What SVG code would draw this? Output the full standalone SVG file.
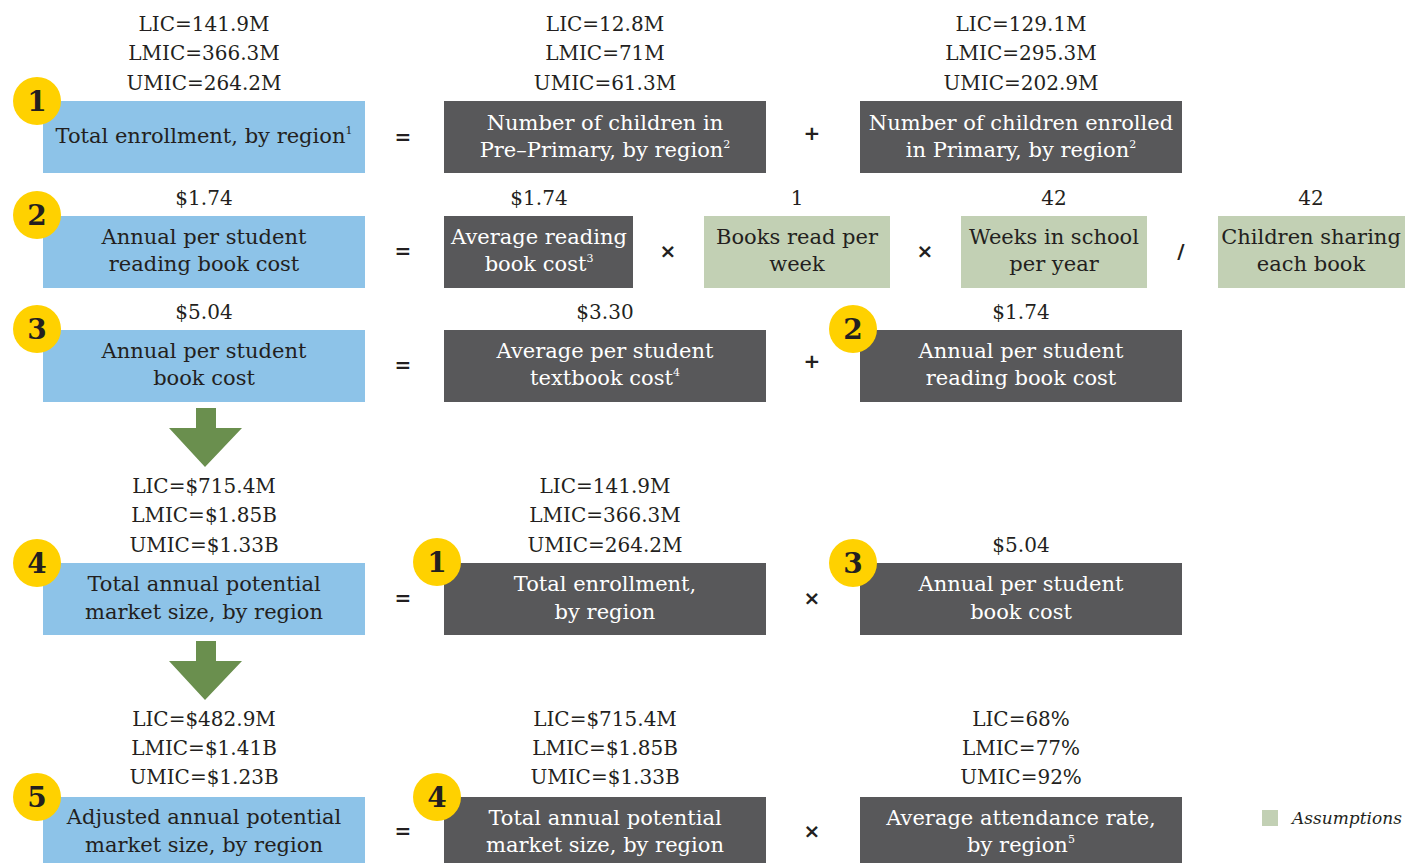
<svg xmlns="http://www.w3.org/2000/svg" width="1406" height="863" viewBox="0 0 1406 863">
<style>
.blue{fill:#8DC3E8}
.dark{fill:#58585A}
.green{fill:#C2D0B4}
.t{font-family:"DejaVu Serif","Liberation Serif",serif;font-size:20px;fill:#231F20;text-anchor:middle;dominant-baseline:central}
.b{font-size:21px}
.w{fill:#FFFFFF}
.op{font-family:"DejaVu Sans","Liberation Sans",sans-serif;font-size:20px;font-weight:bold;fill:#231F20;text-anchor:middle;dominant-baseline:central}
.circ{fill:#FFD100}
.num{font-family:"DejaVu Serif","Liberation Serif",serif;font-size:28px;font-weight:bold;fill:#231F20;text-anchor:middle;dominant-baseline:central}
.sup{font-size:11px}
.arrow{fill:#6A8F4E}
.leg{font-family:"DejaVu Serif","Liberation Serif",serif;font-size:17px;font-style:italic;fill:#231F20;dominant-baseline:central}
</style>

<!-- Row 1 -->
<g id="n1">
<text class="t" x="204" y="24">LIC=141.9M</text>
<text class="t" x="204" y="53">LMIC=366.3M</text>
<text class="t" x="204" y="83">UMIC=264.2M</text>
<rect class="blue" x="43" y="101" width="322" height="72"/>
<circle class="circ" cx="37" cy="101" r="24"/>
<text class="num" x="37" y="101">1</text>
<text class="t b" x="204" y="136">Total enrollment, by region<tspan class="sup" dy="-6">1</tspan></text>
</g>
<text class="op" x="403" y="137">=</text>
<g id="n1a">
<text class="t" x="605" y="24">LIC=12.8M</text>
<text class="t" x="605" y="53">LMIC=71M</text>
<text class="t" x="605" y="83">UMIC=61.3M</text>
<rect class="dark" x="444" y="101" width="322" height="72"/>
<text class="t b w" x="605" y="123">Number of children in</text>
<text class="t b w" x="605" y="150">Pre–Primary, by region<tspan class="sup" dy="-6">2</tspan></text>
</g>
<text class="op" x="812" y="133">+</text>
<g id="n1b">
<text class="t" x="1021" y="24">LIC=129.1M</text>
<text class="t" x="1021" y="53">LMIC=295.3M</text>
<text class="t" x="1021" y="83">UMIC=202.9M</text>
<rect class="dark" x="860" y="101" width="322" height="72"/>
<text class="t b w" x="1021" y="123">Number of children enrolled</text>
<text class="t b w" x="1021" y="150">in Primary, by region<tspan class="sup" dy="-6">2</tspan></text>
</g>

<!-- Row 2 -->
<g id="n2">
<text class="t" x="204" y="198">$1.74</text>
<rect class="blue" x="43" y="216" width="322" height="72"/>
<circle class="circ" cx="37" cy="215" r="24"/>
<text class="num" x="37" y="215">2</text>
<text class="t b" x="204" y="237">Annual per student</text>
<text class="t b" x="204" y="264">reading book cost</text>
</g>
<text class="op" x="403" y="251">=</text>
<g id="n2a">
<text class="t" x="539" y="198">$1.74</text>
<rect class="dark" x="444" y="216" width="189" height="72"/>
<text class="t b w" x="539" y="237">Average reading</text>
<text class="t b w" x="539" y="264">book cost<tspan class="sup" dy="-6">3</tspan></text>
</g>
<text class="op" x="668" y="251">×</text>
<g id="n2b">
<text class="t" x="797" y="198">1</text>
<rect class="green" x="704" y="216" width="186" height="72"/>
<text class="t b" x="797" y="237">Books read per</text>
<text class="t b" x="797" y="264">week</text>
</g>
<text class="op" x="925" y="251">×</text>
<g id="n2c">
<text class="t" x="1054" y="198">42</text>
<rect class="green" x="961" y="216" width="186" height="72"/>
<text class="t b" x="1054" y="237">Weeks in school</text>
<text class="t b" x="1054" y="264">per year</text>
</g>
<text class="op" x="1181" y="251">/</text>
<g id="n2d">
<text class="t" x="1311" y="198">42</text>
<rect class="green" x="1218" y="216" width="187" height="72"/>
<text class="t b" x="1311" y="237">Children sharing</text>
<text class="t b" x="1311" y="264">each book</text>
</g>

<!-- Row 3 -->
<g id="n3">
<text class="t" x="204" y="312">$5.04</text>
<rect class="blue" x="43" y="330" width="322" height="72"/>
<circle class="circ" cx="37" cy="329" r="24"/>
<text class="num" x="37" y="329">3</text>
<text class="t b" x="204" y="351">Annual per student</text>
<text class="t b" x="204" y="378">book cost</text>
</g>
<text class="op" x="403" y="365">=</text>
<g id="n3a">
<text class="t" x="605" y="312">$3.30</text>
<rect class="dark" x="444" y="330" width="322" height="72"/>
<text class="t b w" x="605" y="351">Average per student</text>
<text class="t b w" x="605" y="378">textbook cost<tspan class="sup" dy="-6">4</tspan></text>
</g>
<text class="op" x="812" y="361">+</text>
<g id="n3b">
<text class="t" x="1021" y="312">$1.74</text>
<rect class="dark" x="860" y="330" width="322" height="72"/>
<circle class="circ" cx="853" cy="329" r="24"/>
<text class="num" x="853" y="329">2</text>
<text class="t b w" x="1021" y="351">Annual per student</text>
<text class="t b w" x="1021" y="378">reading book cost</text>
</g>

<!-- Connectors (flow arrows) -->
<g id="connectors">
<polygon class="arrow" points="196,408 216,408 216,428 242,428 205,467 169,428 196,428"/>
<polygon class="arrow" points="196,641 216,641 216,661 242,661 205,700 169,661 196,661"/>
</g>

<!-- Row 4 -->
<g id="n4">
<text class="t" x="204" y="486">LIC=$715.4M</text>
<text class="t" x="204" y="515">LMIC=$1.85B</text>
<text class="t" x="204" y="545">UMIC=$1.33B</text>
<rect class="blue" x="43" y="563" width="322" height="72"/>
<circle class="circ" cx="37" cy="563" r="24"/>
<text class="num" x="37" y="563">4</text>
<text class="t b" x="204" y="584">Total annual potential</text>
<text class="t b" x="204" y="612">market size, by region</text>
</g>
<text class="op" x="403" y="598">=</text>
<g id="n4a">
<text class="t" x="605" y="486">LIC=141.9M</text>
<text class="t" x="605" y="515">LMIC=366.3M</text>
<text class="t" x="605" y="545">UMIC=264.2M</text>
<rect class="dark" x="444" y="563" width="322" height="72"/>
<circle class="circ" cx="437" cy="562" r="24"/>
<text class="num" x="437" y="562">1</text>
<text class="t b w" x="605" y="584">Total enrollment,</text>
<text class="t b w" x="605" y="612">by region</text>
</g>
<text class="op" x="812" y="598">×</text>
<g id="n4b">
<text class="t" x="1021" y="545">$5.04</text>
<rect class="dark" x="860" y="563" width="322" height="72"/>
<circle class="circ" cx="853" cy="563" r="24"/>
<text class="num" x="853" y="563">3</text>
<text class="t b w" x="1021" y="584">Annual per student</text>
<text class="t b w" x="1021" y="612">book cost</text>
</g>

<!-- Row 5 -->
<g id="n5">
<text class="t" x="204" y="719">LIC=$482.9M</text>
<text class="t" x="204" y="748">LMIC=$1.41B</text>
<text class="t" x="204" y="777">UMIC=$1.23B</text>
<rect class="blue" x="43" y="797" width="322" height="66"/>
<circle class="circ" cx="37" cy="797" r="24"/>
<text class="num" x="37" y="797">5</text>
<text class="t b" x="204" y="817">Adjusted annual potential</text>
<text class="t b" x="204" y="845">market size, by region</text>
</g>
<text class="op" x="403" y="831">=</text>
<g id="n5a">
<text class="t" x="605" y="719">LIC=$715.4M</text>
<text class="t" x="605" y="748">LMIC=$1.85B</text>
<text class="t" x="605" y="777">UMIC=$1.33B</text>
<rect class="dark" x="444" y="797" width="322" height="66"/>
<circle class="circ" cx="437" cy="797" r="24"/>
<text class="num" x="437" y="797">4</text>
<text class="t b w" x="605" y="818">Total annual potential</text>
<text class="t b w" x="605" y="845">market size, by region</text>
</g>
<text class="op" x="812" y="831">×</text>
<g id="n5b">
<text class="t" x="1021" y="719">LIC=68%</text>
<text class="t" x="1021" y="748">LMIC=77%</text>
<text class="t" x="1021" y="777">UMIC=92%</text>
<rect class="dark" x="860" y="797" width="322" height="66"/>
<text class="t b w" x="1021" y="818">Average attendance rate,</text>
<text class="t b w" x="1021" y="845">by region<tspan class="sup" dy="-6">5</tspan></text>
</g>

<!-- Legend -->
<g id="legend">
<rect class="green" x="1262" y="810" width="16" height="16"/>
<text class="leg" x="1292" y="818">Assumptions</text>
</g>
</svg>
